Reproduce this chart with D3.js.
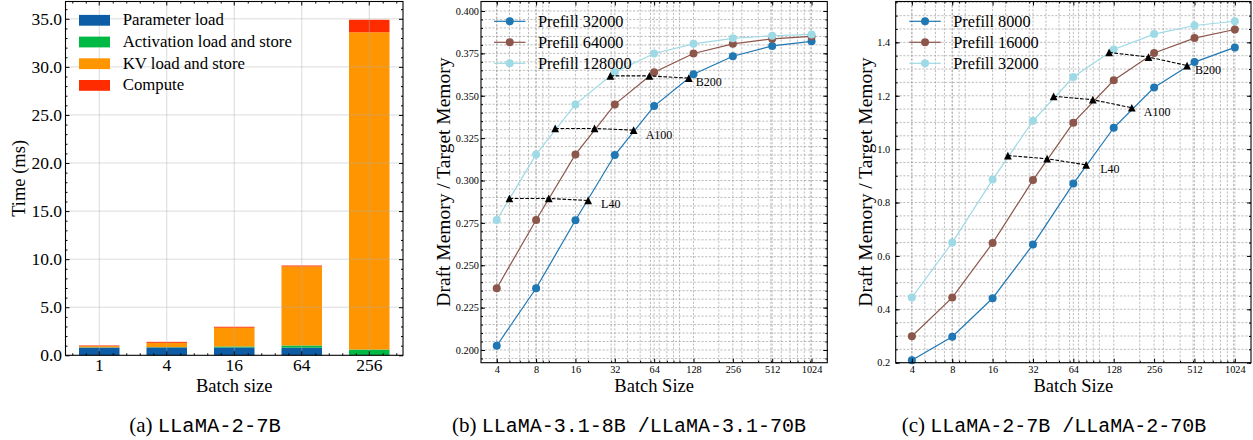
<!DOCTYPE html>
<html><head><meta charset="utf-8">
<script src="https://cdn.jsdelivr.net/npm/d3@7"></script>
<style>
body{margin:0;background:#fff;}
svg{display:block;}
text{font-family:"Liberation Serif","Times New Roman",serif;fill:#000;}
.mono{font-family:"Liberation Mono","DejaVu Sans Mono",monospace;}
</style></head><body>
<svg id="c" width="1253" height="440"></svg>
<script>
// ---------- Panel (a) data ----------
const batchSizes = ['1','4','16','64','256'];
const paramLoad  = [0.80, 0.82, 0.82, 0.80, 0.00];
const actLoad    = [0.03, 0.03, 0.10, 0.22, 0.60];
const kvLoad     = [0.12, 0.45, 1.95, 8.22, 33.00];
const computeT   = [0.07, 0.10, 0.10, 0.10, 1.30];
const seriesA    = ['Parameter load','Activation load and store','KV load and store','Compute'];
const colorsA    = ['#0C5DA5','#00B945','#FF9500','#FF2C00'];
const yTicksA    = [0,5,10,15,20,25,30,35];

// ---------- Panel (b) data ----------
const batch = [4,8,16,32,64,128,256,512,1024];
const xTicksLog = [4,8,16,32,64,128,256,512,1024];
const namesB = ['Prefill 32000','Prefill 64000','Prefill 128000'];
const b32000  = [0.2025,0.2364,0.2765,0.3150,0.3439,0.3627,0.3733,0.3794,0.3821];
const b64000  = [0.2364,0.2767,0.3154,0.3449,0.3639,0.3749,0.3806,0.3836,0.3850];
const b128000 = [0.2767,0.3154,0.3449,0.3639,0.3749,0.3806,0.3839,0.3854,0.3862];
const yTicksB = [0.200,0.225,0.250,0.275,0.300,0.325,0.350,0.375,0.400];
const gpuB_L40  = {name:'L40',  x:[5,10,20],      y:[0.2894,0.2894,0.2882]};
const gpuB_A100 = {name:'A100', x:[11.2,22.4,44.6], y:[0.3307,0.3307,0.3297]};
const gpuB_B200 = {name:'B200', x:[29.6,58.9,117.8], y:[0.3617,0.3617,0.3604]};

// ---------- Panel (c) data ----------
const namesC = ['Prefill 8000','Prefill 16000','Prefill 32000'];
const c8000  = [0.209,0.2975,0.4415,0.6425,0.871,1.080,1.231,1.326,1.381];
const c16000 = [0.299,0.444,0.648,0.884,1.099,1.258,1.360,1.416,1.448];
const c32000 = [0.444,0.650,0.886,1.106,1.270,1.373,1.431,1.463,1.479];
const yTicksC = [0.2,0.4,0.6,0.8,1.0,1.2,1.4];
const gpuC_L40  = {name:'L40',  x:[20.8,40.8,79.7],  y:[0.976,0.964,0.941]};
const gpuC_A100 = {name:'A100', x:[45.6,89.4,174.6], y:[1.198,1.185,1.155]};
const gpuC_B200 = {name:'B200', x:[118.3,232.5,451], y:[1.362,1.345,1.313]};

const lineColors = ['#1f77b4','#8c564b','#9edae5'];

const svg = d3.select('#c');

function rangeStep(a,b,s){const r=[];for(let v=a;v<=b+1e-9;v+=s)r.push(+v.toFixed(6));return r;}

// ================= Panel (a) =================
(function(){
  const L=65.5,R=403,T=1.5,B=355.3;
  const g = svg.append('g');
  const x = d3.scaleBand().domain(batchSizes).range([L,R]).paddingInner(0.4).paddingOuter(0.2);
  const xl = d3.scaleLinear().domain([-0.5,4.5]).range([L,R]);
  const y = d3.scaleLinear().domain([0,36.8]).range([B,T]);
  const stackData = batchSizes.map((b,i)=>({b, p:paramLoad[i], a:actLoad[i], k:kvLoad[i], c:computeT[i]}));
  const stack = d3.stack().keys(['p','a','k','c'])(stackData);
  stack.forEach((s,si)=>{
    g.append('g').selectAll('rect').data(s).join('rect')
      .attr('x',d=>x(d.data.b)).attr('width',x.bandwidth())
      .attr('y',d=>y(d[1])).attr('height',d=>Math.max(0,y(d[0])-y(d[1])))
      .attr('fill',colorsA[si]);
  });
  const gg = g.append('g').attr('stroke','#b0b0b0').attr('stroke-opacity',0.45).attr('stroke-width',1);
  yTicksA.slice(1).forEach(v=>gg.append('line').attr('x1',L).attr('x2',R).attr('y1',y(v)).attr('y2',y(v)));
  batchSizes.forEach(b=>{const cx=x(b)+x.bandwidth()/2;gg.append('line').attr('x1',cx).attr('x2',cx).attr('y1',T).attr('y2',B);});
  const minorY = rangeStep(0,36,1).filter(v=>v%5!==0);
  const minorX = rangeStep(-0.4,4.4,0.2).filter(v=>Math.abs(v-Math.round(v))>1e-6);
  g.append('g').attr('transform',`translate(${L},0)`).call(d3.axisLeft(y).tickValues(yTicksA).tickFormat(d3.format('.1f')).tickSize(-4).tickPadding(3.5))
    .call(a=>{a.select('.domain').remove();a.selectAll('text').attr('font-size',17.5).attr('font-family','Liberation Serif');});
  g.append('g').attr('transform',`translate(${L},0)`).call(d3.axisLeft(y).tickValues(minorY).tickFormat('').tickSize(-2)).call(a=>a.select('.domain').remove());
  g.append('g').attr('transform',`translate(${R},0)`).call(d3.axisRight(y).tickValues(yTicksA).tickFormat('').tickSize(-4)).call(a=>a.select('.domain').remove());
  g.append('g').attr('transform',`translate(${R},0)`).call(d3.axisRight(y).tickValues(minorY).tickFormat('').tickSize(-2)).call(a=>a.select('.domain').remove());
  g.append('g').attr('transform',`translate(0,${B})`).call(d3.axisBottom(x).tickSize(-4).tickPadding(3.5))
    .call(a=>{a.select('.domain').remove();a.selectAll('text').attr('font-size',17.5).attr('font-family','Liberation Serif');});
  g.append('g').attr('transform',`translate(0,${B})`).call(d3.axisBottom(xl).tickValues(minorX).tickFormat('').tickSize(-2)).call(a=>a.select('.domain').remove());
  g.append('g').attr('transform',`translate(0,${T})`).call(d3.axisTop(x).tickFormat('').tickSize(-4)).call(a=>a.select('.domain').remove());
  g.append('g').attr('transform',`translate(0,${T})`).call(d3.axisTop(xl).tickValues(minorX).tickFormat('').tickSize(-2)).call(a=>a.select('.domain').remove());
  g.append('rect').attr('x',L).attr('y',T).attr('width',R-L).attr('height',B-T).attr('fill','none').attr('stroke','#000').attr('stroke-width',1.1);
  seriesA.forEach((s,i)=>{
    const cy = 20.3 + i*21.7;
    g.append('rect').attr('x',79).attr('y',cy-5.4).attr('width',31).attr('height',10.8).attr('fill',colorsA[i]);
    g.append('text').attr('x',122.7).attr('y',cy+5).attr('font-size',16.8).text(s);
  });
  g.append('text').attr('x',(L+R)/2).attr('y',391.5).attr('text-anchor','middle').attr('font-size',18.5).text('Batch size');
  g.append('text').attr('transform',`translate(25,${(T+B)/2}) rotate(-90)`).attr('text-anchor','middle').attr('font-size',18.5).text('Time (ms)');
  const cap = g.append('text').attr('x',205).attr('y',432).attr('text-anchor','middle').attr('font-size',21);
  cap.append('tspan').text('(a) ');
  cap.append('tspan').attr('class','mono').attr('font-size',20.5).text('LLaMA-2-7B');
})();

// ================= Panels (b),(c) =================
function linePanel(o){
  const {L,R,T,B} = o;
  const g = svg.append('g');
  const x = d3.scaleLog().base(2).domain([Math.pow(2,1.6),Math.pow(2,10.4)]).range([L,R]);
  const y = d3.scaleLinear().domain(o.yDomain).range([B,T]);
  const minorX = [];
  [1,10,100,1000].forEach(p=>{for(let m=1;m<=9;m++){const v=m*p; if(v>=x.domain()[0]&&v<=x.domain()[1]) minorX.push(v);}});
  const minorY = rangeStep(o.yDomain[0]-0.0001, o.yDomain[1], o.yMinor).map(v=>Math.round(v/o.yMinor)*o.yMinor).filter(v=>v>=o.yDomain[0]-1e-9&&v<=o.yDomain[1]);
  const gg = g.append('g').attr('stroke','#a0a0a0').attr('stroke-width',0.7).attr('stroke-dasharray','2.2,1.6');
  minorY.forEach(v=>gg.append('line').attr('x1',L).attr('x2',R).attr('y1',y(v)).attr('y2',y(v)));
  minorX.concat(xTicksLog).forEach(v=>gg.append('line').attr('x1',x(v)).attr('x2',x(v)).attr('y1',T).attr('y2',B));
  o.series.forEach((vals,i)=>{
    const pts = batch.map((b,j)=>[b,vals[j]]);
    g.append('path').datum(pts).attr('fill','none').attr('stroke',lineColors[i]).attr('stroke-width',1.2)
      .attr('d',d3.line().x(d=>x(d[0])).y(d=>y(d[1])));
    g.append('g').selectAll('circle').data(pts).join('circle').attr('cx',d=>x(d[0])).attr('cy',d=>y(d[1])).attr('r',4).attr('fill',lineColors[i]);
  });
  const tri = {draw(ctx,size){const s=Math.sqrt(size)/2;ctx.moveTo(0,-s);ctx.lineTo(s,s);ctx.lineTo(-s,s);ctx.closePath();}};
  o.gpus.forEach((gp,k)=>{
    const pts = gp.x.map((v,j)=>[v,gp.y[j]]);
    g.append('path').datum(pts).attr('fill','none').attr('stroke','#000').attr('stroke-width',1.1).attr('stroke-dasharray','3.7,1.6')
      .attr('d',d3.line().x(d=>x(d[0])).y(d=>y(d[1])));
    g.append('g').selectAll('path').data(pts).join('path').attr('transform',d=>`translate(${x(d[0])},${y(d[1])})`)
      .attr('d',d3.symbol(tri,60)()).attr('fill','#000');
    const last = pts[pts.length-1];
    g.append('text').attr('x',x(last[0])+o.labelDx[k]).attr('y',y(last[1])+o.labelDy[k]).attr('font-size',12).text(gp.name);
  });
  const fmt = d3.format(o.yFmt);
  g.append('g').attr('transform',`translate(${L},0)`).call(d3.axisLeft(y).tickValues(o.yTicks).tickFormat(fmt).tickSize(-4).tickPadding(o.yPad))
    .call(a=>{a.select('.domain').remove();a.selectAll('text').attr('font-size',10.3).attr('font-family','Liberation Serif');});
  g.append('g').attr('transform',`translate(${L},0)`).call(d3.axisLeft(y).tickValues(minorY).tickFormat('').tickSize(-2)).call(a=>a.select('.domain').remove());
  g.append('g').attr('transform',`translate(${R},0)`).call(d3.axisRight(y).tickValues(o.yTicks).tickFormat('').tickSize(-4)).call(a=>a.select('.domain').remove());
  g.append('g').attr('transform',`translate(${R},0)`).call(d3.axisRight(y).tickValues(minorY).tickFormat('').tickSize(-2)).call(a=>a.select('.domain').remove());
  g.append('g').attr('transform',`translate(0,${B})`).call(d3.axisBottom(x).tickValues(xTicksLog).tickFormat(d3.format('d')).tickSize(-4).tickPadding(3))
    .call(a=>{a.select('.domain').remove();a.selectAll('text').attr('font-size',10.3).attr('font-family','Liberation Serif');});
  g.append('g').attr('transform',`translate(0,${B})`).call(d3.axisBottom(x).tickValues(minorX).tickFormat('').tickSize(-2)).call(a=>a.select('.domain').remove());
  g.append('g').attr('transform',`translate(0,${T})`).call(d3.axisTop(x).tickValues(xTicksLog).tickFormat('').tickSize(-4)).call(a=>a.select('.domain').remove());
  g.append('g').attr('transform',`translate(0,${T})`).call(d3.axisTop(x).tickValues(minorX).tickFormat('').tickSize(-2)).call(a=>a.select('.domain').remove());
  g.append('rect').attr('x',L).attr('y',T).attr('width',R-L).attr('height',B-T).attr('fill','none').attr('stroke','#000').attr('stroke-width',1.1);
  o.names.forEach((n,i)=>{
    const cy = 21.3 + i*21;
    const lx = o.legX;
    g.append('line').attr('x1',lx).attr('x2',lx+31.5).attr('y1',cy).attr('y2',cy).attr('stroke',lineColors[i]).attr('stroke-width',1.2);
    g.append('circle').attr('cx',lx+15.75).attr('cy',cy).attr('r',4).attr('fill',lineColors[i]);
    g.append('text').attr('x',lx+44).attr('y',cy+5.3).attr('font-size',16.3).text(n);
  });
  g.append('text').attr('x',(L+R)/2).attr('y',391.5).attr('text-anchor','middle').attr('font-size',18.5).text('Batch Size');
  g.append('text').attr('transform',`translate(${o.yTitleX},${(T+B)/2}) rotate(-90)`).attr('text-anchor','middle').attr('font-size',19.5).text('Draft Memory / Target Memory');
  const cap = g.append('text').attr('x',o.capX).attr('y',432).attr('text-anchor','middle').attr('font-size',21);
  cap.append('tspan').text(o.capA);
  cap.append('tspan').attr('class','mono').attr('font-size',20).text(o.capB);
}

linePanel({L:481,R:827.3,T:1.5,B:362.7,yDomain:[0.1925,0.4056],yTicks:yTicksB,yMinor:0.005,yFmt:'.3f',yPad:2,
  series:[b32000,b64000,b128000],names:namesB,gpus:[gpuB_L40,gpuB_A100,gpuB_B200],
  labelDx:[13,12,7],labelDy:[8,8.5,8],legX:494,yTitleX:450,capX:629,capA:'(b) ',capB:'LLaMA-3.1-8B /LLaMA-3.1-70B'});
linePanel({L:895.7,R:1251,T:1.5,B:362.7,yDomain:[0.2,1.553],yTicks:yTicksC,yMinor:0.05,yFmt:'.1f',yPad:5.5,
  series:[c8000,c16000,c32000],names:namesC,gpus:[gpuC_L40,gpuC_A100,gpuC_B200],
  labelDx:[14,12,8],labelDy:[8,8,8],legX:909.3,yTitleX:872,capX:1054,capA:'(c) ',capB:'LLaMA-2-7B /LLaMA-2-70B'});
</script>
</body></html>
